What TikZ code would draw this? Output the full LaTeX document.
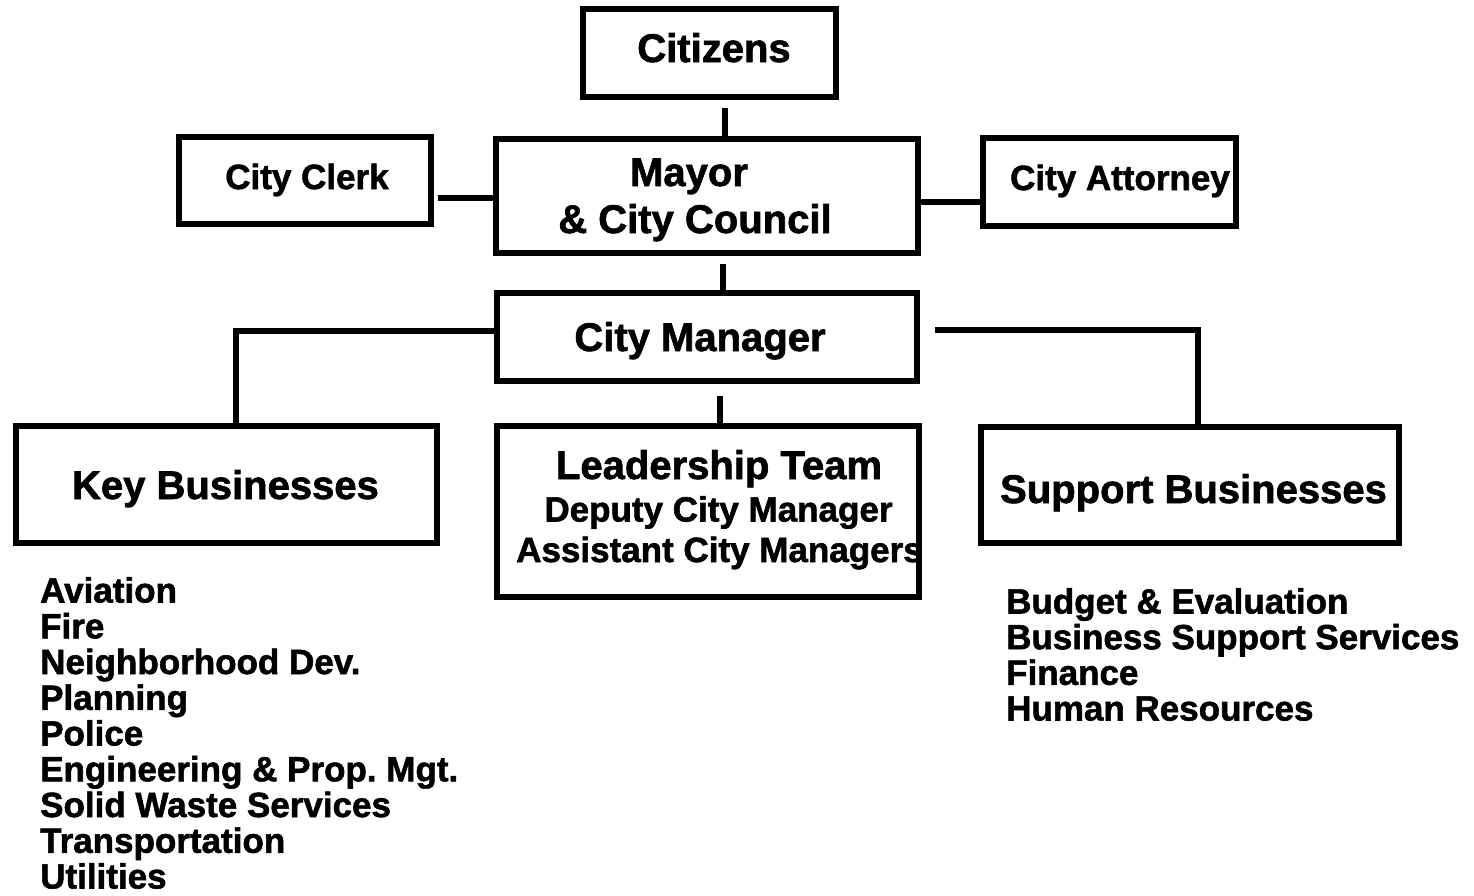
\documentclass[tikz,border=0pt]{standalone}
\usepackage{fontspec}
\setmainfont{Liberation Sans}[BoldFeatures={FakeBold=1.6}]
\frenchspacing
\begin{document}
\begin{tikzpicture}[x=1pt, y=-1pt,
  box/.style={draw, line width=6.5pt, inner sep=0pt, outer sep=auto},
  link/.style={line width=6.5pt},
  big/.style={inner sep=0pt, anchor=base, font=\fontsize{40}{44}\selectfont\bfseries},
  mid/.style={inner sep=0pt, anchor=base, font=\fontsize{35}{38}\selectfont\bfseries},
  item/.style={inner sep=0pt, anchor=base west, font=\fontsize{35}{38}\selectfont\bfseries}]
\useasboundingbox (0,0) rectangle (1474,895);

% boxes
\node[box, minimum width=253pt, minimum height=88pt]  (citizens)   at (709.5,53)  {};
\node[box, minimum width=252pt, minimum height=87pt]  (clerk)      at (305,180.5) {};
\node[box, minimum width=422pt, minimum height=114pt] (mayor)      at (707,196)   {};
\node[box, minimum width=253pt, minimum height=88pt]  (attorney)   at (1109.5,182) {};
\node[box, minimum width=420pt, minimum height=88pt]  (manager)    at (707,337)   {};
\node[box, minimum width=421pt, minimum height=117pt] (key)        at (226.5,484.5) {};
\node[box, minimum width=422pt, minimum height=171pt] (leadership) at (708,511.5) {};
\node[box, minimum width=418pt, minimum height=116pt] (support)    at (1190,485)  {};

% box texts
\node[big] (tcitizens) at (714,62)    {Citizens};
\node[mid] (tclerk)    at (307,189)   {City Clerk};
\node[big] (tmayor1)   at (689,186)   {Mayor};
\node[big] (tmayor2)   at (695,233)   {\& City Council};
\node[mid] (tattorney) at (1120,190)  {City Attorney};
\node[big] (tmanager)  at (700,351)   {City Manager};
\node[big] (tkey)      at (225.5,499) {Key Businesses};
\node[big] (tlead1)    at (719,479)   {Leadership Team};
\node[mid] (tlead2)    at (718.5,521.5) {Deputy City Manager};
\node[mid] (tlead3)    at (719.5,562) {Assistant City Managers};
\node[big] (tsupport)  at (1193.5,503) {Support Businesses};

% connectors
\draw[link, shorten <=8pt] ([xshift=15.5pt]citizens.south) -- ([xshift=15.5pt]citizens.south |- mayor.north);
\draw[link, shorten <=4pt] ([yshift=-17.5pt]clerk.east) -- ([yshift=-17.5pt]clerk.east -| mayor.west);
\draw[link] ([yshift=-6pt]mayor.east) -- ([yshift=-6pt]mayor.east -| attorney.west);
\draw[link, shorten <=8pt] ([xshift=16pt]mayor.south) -- ([xshift=16pt]mayor.south |- manager.north);
\draw[link] ([yshift=6pt]manager.west) -| ([xshift=9.5pt]key.north);
\draw[link, shorten <=15pt] ([yshift=7pt]manager.east) -| ([xshift=8pt]support.north);
\draw[link, shorten <=12pt] ([xshift=13pt]manager.south) -- ([xshift=13pt]manager.south |- leadership.north);

% key business list
\node[item] (kb1) at (40,602.5) {Aviation};
\node[item] (kb2) at (40,638.3) {Fire};
\node[item] (kb3) at (40,674)   {Neighborhood Dev.};
\node[item] (kb4) at (40,709.8) {Planning};
\node[item] (kb5) at (40,745.5) {Police};
\node[item] (kb6) at (40,781.3) {Engineering \& Prop. Mgt.};
\node[item] (kb7) at (40,817)   {Solid Waste Services};
\node[item] (kb8) at (40,852.8) {Transportation};
\node[item] (kb9) at (40,888.5) {Utilities};

% support business list
\node[item] (sb1) at (1006,613.5) {Budget \& Evaluation};
\node[item] (sb2) at (1006,649.2) {Business Support Services};
\node[item] (sb3) at (1006,684.8) {Finance};
\node[item] (sb4) at (1006,720.5) {Human Resources};
\end{tikzpicture}
\end{document}
